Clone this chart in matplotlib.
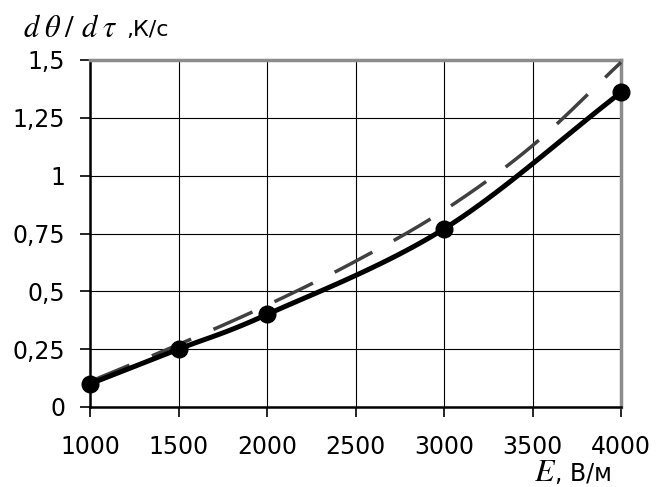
import numpy as np
import matplotlib
matplotlib.use("Agg")
import matplotlib.pyplot as plt

# data
E_pts = [1000, 1500, 2000, 3000, 4000]
rate_pts = [0.10, 0.25, 0.40, 0.77, 1.36]
E_dash = [1000, 1500, 2000, 2500, 3000, 3500, 4000]
rate_dash = [0.11, 0.27, 0.44, 0.63, 0.85, 1.13, 1.49]
xticks = [1000, 1500, 2000, 2500, 3000, 3500, 4000]
yticks = [0, 0.25, 0.5, 0.75, 1, 1.25, 1.5]
ytick_labels = ["0", "0,25", "0,5", "0,75", "1", "1,25", "1,5"]


def smooth(x, y, n=30):
    # Catmull-Rom style smoothing between given points (like Excel smoothed line)
    x = np.asarray(x, float)
    y = np.asarray(y, float)
    P = np.column_stack([x, y])
    P = np.vstack([2 * P[0] - P[1], P, 2 * P[-1] - P[-2]])
    out = []
    for i in range(1, len(P) - 2):
        p0, p1, p2, p3 = P[i - 1], P[i], P[i + 1], P[i + 2]
        t = np.linspace(0, 1, n)[:, None]
        seg = 0.5 * ((2 * p1) + (-p0 + p2) * t + (2 * p0 - 5 * p1 + 4 * p2 - p3) * t ** 2
                     + (-p0 + 3 * p1 - 3 * p2 + p3) * t ** 3)
        out.append(seg if i == 1 else seg[1:])
    out = np.vstack(out)
    return out[:, 0], out[:, 1]


plt.rcParams['font.family'] = ['DejaVu Sans']
plt.rcParams['mathtext.fontset'] = 'stix'

fig = plt.figure(figsize=(6.6, 4.87), dpi=100)
ax = fig.add_axes([90 / 660, 1 - 407 / 487, 531 / 660, 347 / 487])

ax.set_xlim(1000, 4000)
ax.set_ylim(0, 1.5)
ax.set_xticks(xticks)
ax.set_yticks(yticks)
ax.set_yticklabels(ytick_labels)
ax.grid(True, color='black', linewidth=0.8)
ax.set_axisbelow(True)
ax.tick_params(axis='both', direction='out', length=7, width=1.2, labelsize=17, colors='black')
ax.tick_params(axis='y', pad=11)
ax.tick_params(axis='x', pad=13)

for s in ['left', 'bottom']:
    ax.spines[s].set_color('black')
    ax.spines[s].set_linewidth(1.8)
for s in ['top', 'right']:
    ax.spines[s].set_color('#8c8c8c')
    ax.spines[s].set_linewidth(2.5)

xd, yd = smooth(E_dash, rate_dash)
ax.plot(xd, yd, color='#404040', linewidth=2.5, dashes=(12.3, 7), dash_capstyle='butt', zorder=3, clip_on=False)

xs, ys = smooth(E_pts, rate_pts)
ax.plot(xs, ys, color='black', linewidth=3.6, zorder=4, clip_on=False, solid_capstyle='round')
ax.plot(E_pts, rate_pts, 'o', color='black', markersize=12, zorder=5, clip_on=False)

# y-axis title d(theta)/d(tau), K/s  (spaced like the original equation object)
ylab_parts = [r'$d$', r'$\theta$', r'$/$', r'$d$', r'$\tau$']
ylab_x = [23, 44, 64, 81, 102]
for part, px in zip(ylab_parts, ylab_x):
    fig.text(px / 660, 1 - 37 / 487, part, fontsize=22, ha='left', va='baseline')
fig.text(126 / 660, 1 - 36 / 487, ',К/с', fontsize=16, ha='left', va='baseline')

fig.text(534 / 660, 1 - 481 / 487, r'$E$', fontsize=23, ha='left', va='baseline')
fig.text(555 / 660, 1 - 481 / 487, ', В/м', fontsize=17, ha='left', va='baseline')

fig.savefig('out.png', dpi=100)
